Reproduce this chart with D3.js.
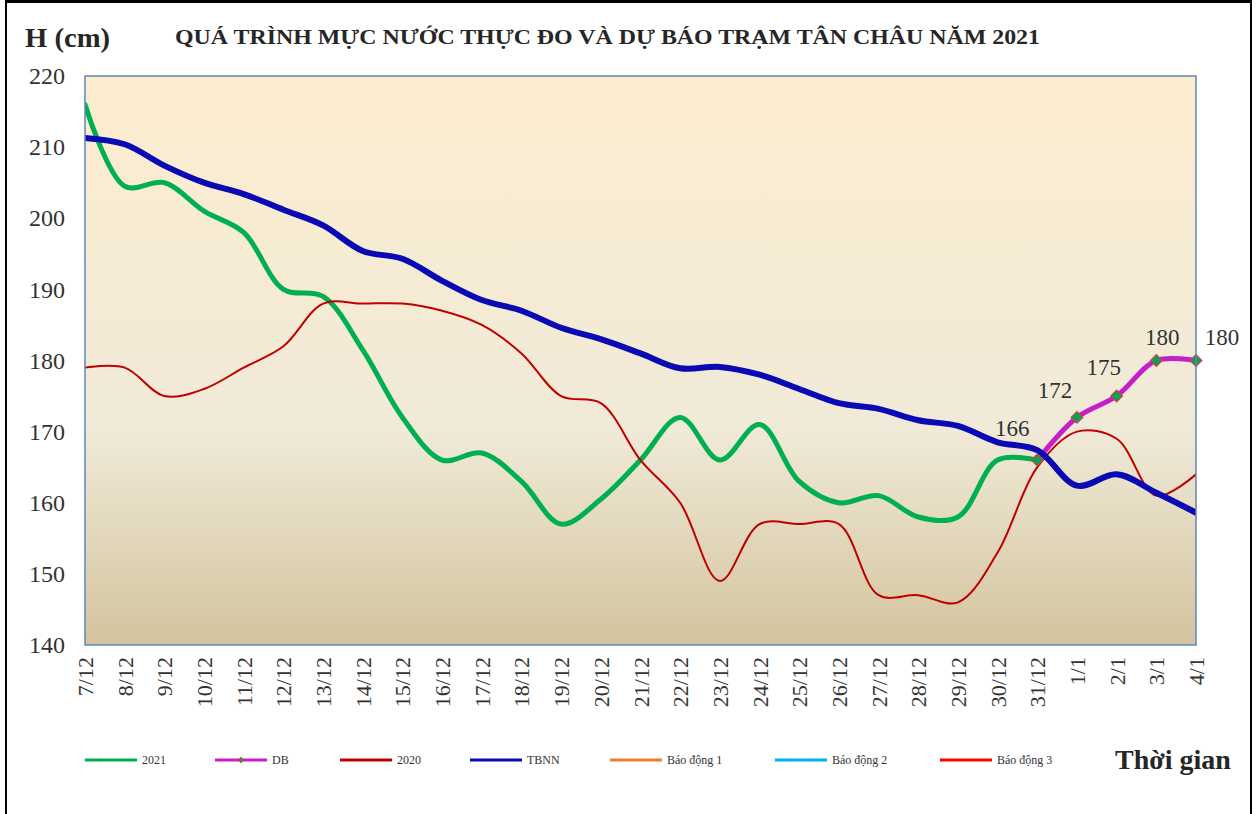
<!DOCTYPE html>
<html>
<head>
<meta charset="utf-8">
<script src="https://cdn.jsdelivr.net/npm/d3@7"></script>
<style>
  body { margin: 0; background: #fff; }
  svg { display: block; font-family: "Liberation Serif", "Times New Roman", serif; }
</style>
</head>
<body>
<div id="chart"></div>
<script>
// categories (dates)
const days = ['7/12','8/12','9/12','10/12','11/12','12/12','13/12','14/12','15/12','16/12',
  '17/12','18/12','19/12','20/12','21/12','22/12','23/12','24/12','25/12','26/12',
  '27/12','28/12','29/12','30/12','31/12','1/1','2/1','3/1','4/1'];

// observed 2021 (to 31/12)
const obs2021 = [216,204.5,205,201,198,190,189,181.5,172,166,167,163,157,160.5,166,172,166,171,
  163,160,161,158,158,166,166];
// forecast DB (31/12 .. 4/1)
const dbDays = ['31/12','1/1','2/1','3/1','4/1'];
const dbVals = [166,172,175,180,180];
// same period 2020
const y2020 = [179,179,175,176,179,182,188,188,188,187,185,181,175,174,166,160,149,157,157,157,
  147,147,146,153,165,170,169,161,164];
// long-term average
const tbnn = [211.3,210.4,207.4,205,203.4,201.2,199,195.4,194.3,191.2,188.5,187,184.6,183,181,
  178.9,179.1,178,176,174,173.2,171.6,170.8,168.5,167.4,162.4,164,161.4,158.6];
// alarm levels (Tân Châu) — outside the plotted range
const alarms = [350, 400, 450];

const yTicks = [140,150,160,170,180,190,200,210,220];

const W = 1259, H = 814;
const pLeft = 85, pRight = 1196, pTop = 76, pBottom = 645;

const svg = d3.select('#chart').append('svg').attr('width', W).attr('height', H);

// outer frame
svg.append('rect').attr('x', 6).attr('y', 1.5).attr('width', 1245).attr('height', 830)
  .attr('fill', '#fff').attr('stroke', '#000').attr('stroke-width', 2);
svg.append('line').attr('x1', 5).attr('x2', 1252).attr('y1', 1.5).attr('y2', 1.5)
  .attr('stroke', '#000').attr('stroke-width', 3);

const x = d3.scalePoint().domain(days).range([pLeft, pRight]);
const y = d3.scaleLinear().domain([140, 220]).range([pBottom, pTop]);

// background gradient
const defs = svg.append('defs');
const grad = defs.append('linearGradient').attr('id', 'bg')
  .attr('x1', 0).attr('y1', 0).attr('x2', 0).attr('y2', 1);
grad.append('stop').attr('offset', '0%').attr('stop-color', '#fdedd0');
grad.append('stop').attr('offset', '62%').attr('stop-color', '#f0ead8');
grad.append('stop').attr('offset', '100%').attr('stop-color', '#d3c49e');
defs.append('clipPath').attr('id', 'clip').append('rect')
  .attr('x', pLeft).attr('y', pTop).attr('width', pRight - pLeft).attr('height', pBottom - pTop);

svg.append('rect').attr('x', pLeft).attr('y', pTop)
  .attr('width', pRight - pLeft).attr('height', pBottom - pTop)
  .attr('fill', 'url(#bg)');

// title
svg.append('text').attr('x', 25).attr('y', 47)
  .attr('font-size', 27).attr('font-weight', 'bold').attr('fill', '#262626')
  .attr('textLength', 85).attr('lengthAdjust', 'spacingAndGlyphs')
  .text('H (cm)');
svg.append('text').attr('x', 175).attr('y', 44)
  .attr('font-size', 22).attr('font-weight', 'bold').attr('fill', '#262626')
  .attr('textLength', 865).attr('lengthAdjust', 'spacingAndGlyphs')
  .text('QUÁ TRÌNH MỰC NƯỚC THỰC ĐO VÀ DỰ BÁO TRẠM TÂN CHÂU NĂM 2021');

// y axis labels
const yAxis = d3.axisLeft(y).tickValues(yTicks).tickSize(0).tickPadding(0);
const gy = svg.append('g').attr('transform', `translate(${pLeft - 20},0)`).call(yAxis);
gy.select('.domain').remove();
gy.selectAll('text').attr('font-size', 24).attr('fill', '#333')
  .attr('font-family', '"Liberation Serif", serif');

// x axis labels (rotated)
const xAxis = d3.axisBottom(x).tickSize(0).tickPadding(0);
const gx = svg.append('g').attr('transform', `translate(0,${pBottom})`).call(xAxis);
gx.select('.domain').remove();
gx.selectAll('text')
  .attr('font-size', 22).attr('fill', '#333').attr('font-family', '"Liberation Serif", serif')
  .attr('text-anchor', 'end').attr('dy', null).attr('y', 0)
  .attr('transform', 'translate(0,12) rotate(-90)')
  .attr('dominant-baseline', 'central');

const plot = svg.append('g').attr('clip-path', 'url(#clip)');
const curve = d3.curveCatmullRom.alpha(0.5);

function series(cats, vals, color, width) {
  const line = d3.line().curve(curve).x((d, i) => x(cats[i])).y(d => y(d));
  plot.append('path').datum(vals).attr('d', line)
    .attr('fill', 'none').attr('stroke', color).attr('stroke-width', width)
    .attr('stroke-linejoin', 'round').attr('stroke-linecap', 'round');
}

// alarm lines (clipped, off-range)
const alarmColors = ['#ed7d31', '#00b0f0', '#ff0000'];
alarms.forEach((a, i) => {
  plot.append('line').attr('x1', pLeft).attr('x2', pRight).attr('y1', y(a)).attr('y2', y(a))
    .attr('stroke', alarmColors[i]).attr('stroke-width', 2);
});

series(days.slice(0, obs2021.length), obs2021, '#00b050', 5);
series(dbDays, dbVals, '#c71ec7', 5);
series(days, y2020, '#c00000', 2);
series(days, tbnn, '#0a0ab4', 6);

// DB markers
const diamond = d3.symbol().type(d3.symbolSquare).size(64);
svg.append('g').selectAll('path').data(dbVals).join('path')
  .attr('d', diamond)
  .attr('transform', (d, i) => `translate(${x(dbDays[i])},${y(d)}) rotate(45)`)
  .attr('fill', '#00a651').attr('stroke', '#b0504a').attr('stroke-width', 1.5);

// plot border
svg.append('rect').attr('x', pLeft).attr('y', pTop)
  .attr('width', pRight - pLeft).attr('height', pBottom - pTop)
  .attr('fill', 'none').attr('stroke', '#5b87c0').attr('stroke-width', 1.5);

// DB data labels
const labelOffsets = [[-25, -24], [-22, -19], [-13, -21], [6, -16], [26, -16]];
svg.append('g').selectAll('text').data(dbVals).join('text')
  .attr('x', (d, i) => x(dbDays[i]) + labelOffsets[i][0])
  .attr('y', (d, i) => y(d) + labelOffsets[i][1])
  .attr('text-anchor', 'middle').attr('font-size', 23).attr('fill', '#333')
  .text(d => d);

// legend
const legend = [
  { name: '2021', color: '#00b050', x: 85 },
  { name: 'DB', color: '#c71ec7', x: 215, marker: true },
  { name: '2020', color: '#c00000', x: 340 },
  { name: 'TBNN', color: '#0a0ab4', x: 470 },
  { name: 'Báo động 1', color: '#ed7d31', x: 610 },
  { name: 'Báo động 2', color: '#00b0f0', x: 775 },
  { name: 'Báo động 3', color: '#ff0000', x: 940 }
];
const lg = svg.append('g').attr('transform', 'translate(0,760)');
legend.forEach(l => {
  lg.append('line').attr('x1', l.x).attr('x2', l.x + 52).attr('y1', 0).attr('y2', 0)
    .attr('stroke', l.color).attr('stroke-width', 3);
  if (l.marker) {
    lg.append('path').attr('d', d3.symbol().type(d3.symbolSquare).size(12))
      .attr('transform', `translate(${l.x + 26},0) rotate(45)`)
      .attr('fill', '#00a651').attr('stroke', '#b0504a').attr('stroke-width', 1);
  }
  lg.append('text').attr('x', l.x + 57).attr('y', 0).attr('dy', '0.35em')
    .attr('font-size', 12).attr('fill', '#333').text(l.name);
});
svg.append('text').attr('x', 1115).attr('y', 769)
  .attr('font-size', 28).attr('font-weight', 'bold').attr('fill', '#262626')
  .text('Thời gian');
</script>
</body>
</html>
